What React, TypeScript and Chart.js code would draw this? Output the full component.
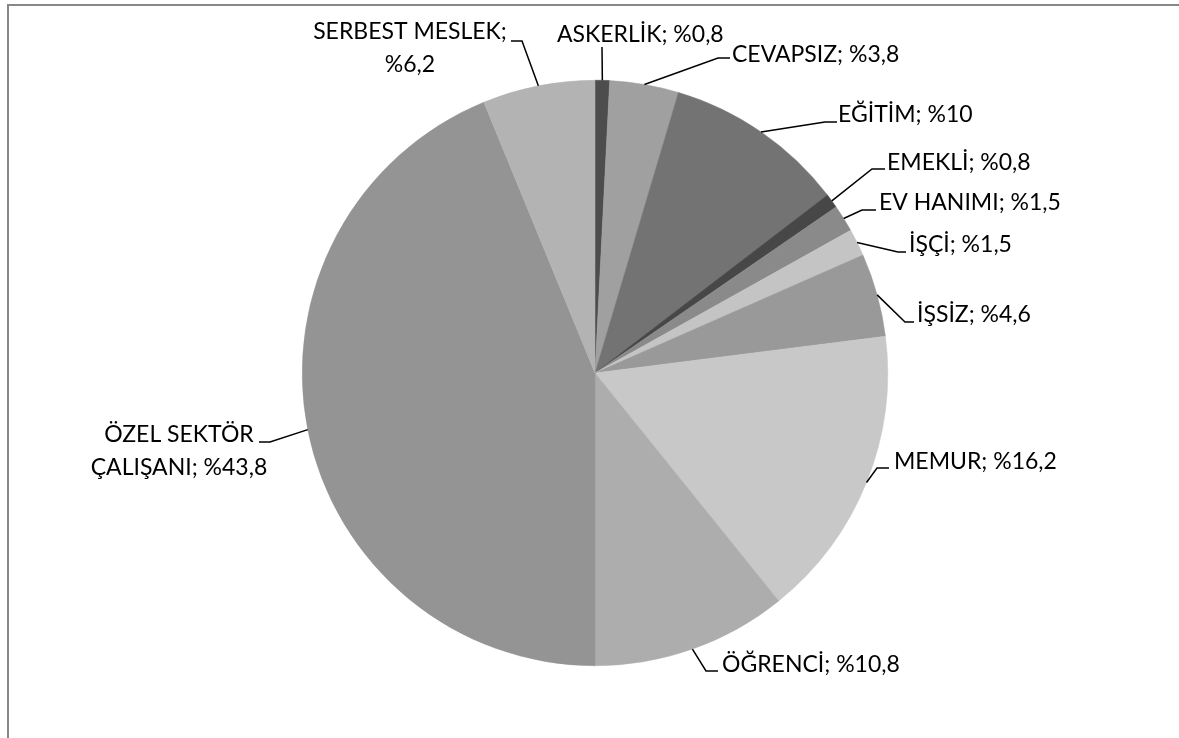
import React, { useEffect, useRef } from "react";
import { Chart, registerables } from "chart.js";

Chart.register(...registerables);

const CATEGORIES = [
  "ASKERLİK",
  "CEVAPSIZ",
  "EĞİTİM",
  "EMEKLİ",
  "EV HANIMI",
  "İŞÇİ",
  "İŞSİZ",
  "MEMUR",
  "ÖĞRENCİ",
  "ÖZEL SEKTÖR ÇALIŞANI",
  "SERBEST MESLEK",
];
const VALUES = [0.8, 3.8, 10, 0.8, 1.5, 1.5, 4.6, 16.2, 10.8, 43.8, 6.2];
const COLORS = [
  "#4d4d4d",
  "#a0a0a0",
  "#737373",
  "#474747",
  "#8a8a8a",
  "#c4c4c4",
  "#999999",
  "#c8c8c8",
  "#adadad",
  "#949494",
  "#b3b3b3",
];

// label layout: elbow point (ex, ey), end of horizontal (hx), text anchor (tx, ty baseline), alignment, wrap width
const LABEL_LAYOUT = [
  { ex: 602, ey: 47, hx: 602, tx: 557, ty: 42, align: "left", wrap: 400 },
  { ex: 718, ey: 58, hx: 730, tx: 732, ty: 62, align: "left", wrap: 400 },
  { ex: 825, ey: 122, hx: 837, tx: 838, ty: 122, align: "left", wrap: 400 },
  { ex: 872, ey: 169, hx: 885, tx: 887, ty: 170, align: "left", wrap: 400 },
  { ex: 862, ey: 210, hx: 876, tx: 879, ty: 210, align: "left", wrap: 400 },
  { ex: 898, ey: 252, hx: 906, tx: 909, ty: 252, align: "left", wrap: 400 },
  { ex: 905, ey: 322, hx: 914, tx: 917, ty: 322, align: "left", wrap: 400 },
  { ex: 877, ey: 468, hx: 889, tx: 894, ty: 469, align: "left", wrap: 400 },
  { ex: 706, ey: 671, hx: 718, tx: 722, ty: 672, align: "left", wrap: 400 },
  { ex: 270, ey: 442, hx: 259, tx: 179, ty: 442, align: "center", wrap: 200 },
  { ex: 522, ey: 41, hx: 511, tx: 410, ty: 39, align: "center", wrap: 220 },
];

const FONT_SIZE = 23;
const LINE_GAP = 33;
const FONT = `${FONT_SIZE}px Lato, "Open Sans", sans-serif`;

function fmt(v: number) {
  return String(v).replace(".", ",");
}

function wrapText(ctx: CanvasRenderingContext2D, text: string, maxW: number) {
  const words = text.split(" ");
  const lines: string[] = [];
  let cur = "";
  for (const w of words) {
    const test = cur ? cur + " " + w : w;
    if (ctx.measureText(test).width > maxW && cur) {
      lines.push(cur);
      cur = w;
    } else {
      cur = test;
    }
  }
  if (cur) lines.push(cur);
  return lines;
}

const labelPlugin = {
  id: "pieLabels",
  afterDatasetsDraw(chart: any) {
    const ctx: CanvasRenderingContext2D = chart.ctx;
    const meta = chart.getDatasetMeta(0);
    ctx.save();
    ctx.font = FONT;
    ctx.fillStyle = "#000000";
    ctx.strokeStyle = "#000000";
    ctx.lineWidth = 1.5;
    meta.data.forEach((arc: any, i: number) => {
      const p = arc.getProps(["x", "y", "startAngle", "endAngle", "outerRadius"], true);
      const mid = (p.startAngle + p.endAngle) / 2;
      const ax = p.x + Math.cos(mid) * p.outerRadius;
      const ay = p.y + Math.sin(mid) * p.outerRadius;
      const L = LABEL_LAYOUT[i];
      ctx.beginPath();
      ctx.moveTo(ax, ay);
      ctx.lineTo(L.ex, L.ey);
      ctx.lineTo(L.hx, L.ey);
      ctx.stroke();
      const text = `${CATEGORIES[i]}; %${fmt(VALUES[i])}`;
      const lines = wrapText(ctx, text, L.wrap);
      ctx.textAlign = L.align as CanvasTextAlign;
      ctx.textBaseline = "alphabetic";
      lines.forEach((ln, k) => {
        ctx.fillText(ln, L.tx, L.ty + k * LINE_GAP);
      });
    });
    ctx.restore();
  },
};

export default function App() {
  const ref = useRef<HTMLCanvasElement | null>(null);
  useEffect(() => {
    if (!ref.current) return;
    const chart = new Chart(ref.current, {
      type: "pie",
      data: {
        labels: CATEGORIES,
        datasets: [
          {
            data: VALUES,
            backgroundColor: COLORS,
            borderColor: COLORS,
            borderWidth: 0.5,
            hoverBorderWidth: 0.5,
            hoverOffset: 0,
          },
        ],
      },
      options: {
        responsive: false,
        animation: false,
        events: [],
        layout: { padding: { left: 302, right: 291, top: 80, bottom: 72 } },
        plugins: {
          legend: { display: false },
          tooltip: { enabled: false },
        },
      },
      plugins: [labelPlugin],
    });
    return () => chart.destroy();
  }, []);
  return (
    <div style={{ position: "absolute", left: 0, top: 0, width: 1179, height: 738, background: "#fff" }}>
      <div
        style={{
          position: "absolute",
          left: 7,
          top: 4,
          width: 1172,
          height: 734,
          borderTop: "2px solid #878787",
          borderLeft: "2px solid #878787",
          boxSizing: "border-box",
        }}
      />
      <canvas ref={ref} width={1179} height={738} style={{ position: "absolute", left: 0, top: 0 }} />
    </div>
  );
}
